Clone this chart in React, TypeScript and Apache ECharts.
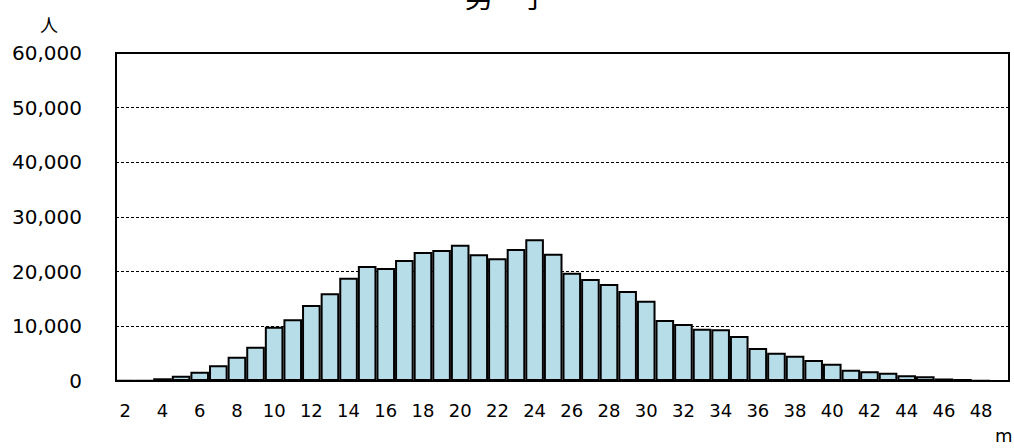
import React, { useEffect, useRef } from "react";
import * as echarts from "echarts";

const categories: string[] = [
  "2","3","4","5","6","7","8","9","10","11","12","13","14","15","16","17",
  "18","19","20","21","22","23","24","25","26","27","28","29","30","31","32","33",
  "34","35","36","37","38","39","40","41","42","43","44","45","46","47","48","49",
];

const counts: number[] = [
  60, 120, 500, 970, 1700, 2870, 4450, 6280, 9930, 11290, 13900, 16040, 18900, 21040, 20670, 22130,
  23600, 23960, 24930, 23180, 22440, 24150, 25920, 23290, 19810, 18660, 17740, 16460, 14690, 11160, 10430, 9570,
  9460, 8230, 6040, 5180, 4630, 3840, 3160, 2070, 1770, 1520, 1040, 860, 460, 370, 120, 40,
];

const titleText = "男　子";
const yUnit = "人";
const xUnit = "m";

const FONT = "Verdana, 'DejaVu Sans', sans-serif";

export default function App() {
  const ref = useRef<HTMLDivElement>(null);
  useEffect(() => {
    if (!ref.current) return;
    const chart = echarts.init(ref.current, undefined, { renderer: "svg" });
    chart.setOption({
      animation: false,
      backgroundColor: "#ffffff",
      title: {
        text: titleText,
        left: "center",
        top: -23,
        textStyle: { fontSize: 28, fontWeight: "normal", color: "#000", fontFamily: "'Noto Sans CJK JP', sans-serif" },
      },
      grid: {
        left: 116,
        right: 5,
        top: 53,
        bottom: 67,
        show: true,
        borderColor: "#000",
        borderWidth: 2,
        backgroundColor: "transparent",
      },
      xAxis: {
        type: "category",
        data: categories,
        axisLine: { show: true, lineStyle: { color: "#000", width: 2 } },
        axisTick: { show: false },
        axisLabel: {
          interval: 1,
          margin: 20,
          fontSize: 18,
          color: "#000",
          fontFamily: FONT,
        },
        splitLine: { show: false },
      },
      yAxis: {
        type: "value",
        min: 0,
        max: 60000,
        interval: 10000,
        axisLine: { show: false },
        axisTick: { show: false },
        axisLabel: {
          margin: 34,
          fontSize: 20,
          color: "#000",
          fontFamily: FONT,
          formatter: (v: number) => v.toLocaleString("en-US"),
        },
        splitLine: { show: true, lineStyle: { color: "#000", width: 1, type: [3, 2] } },
      },
      graphic: [
        {
          type: "text",
          left: 40,
          top: 15,
          style: { text: yUnit, fontSize: 18, fill: "#000", fontFamily: "'Noto Sans CJK JP', sans-serif" },
        },
        {
          type: "text",
          left: 995,
          top: 426,
          style: { text: xUnit, fontSize: 18, fill: "#000", fontFamily: FONT },
        },
      ],
      series: [
        {
          type: "bar",
          data: counts,
          barCategoryGap: "0%",
          itemStyle: { color: "#b7dde8", borderColor: "#000", borderWidth: 2 },
        },
      ],
    });
    return () => chart.dispose();
  }, []);
  return <div ref={ref} style={{ position: "fixed", left: 0, top: 0, width: 1014, height: 448 }} />;
}
